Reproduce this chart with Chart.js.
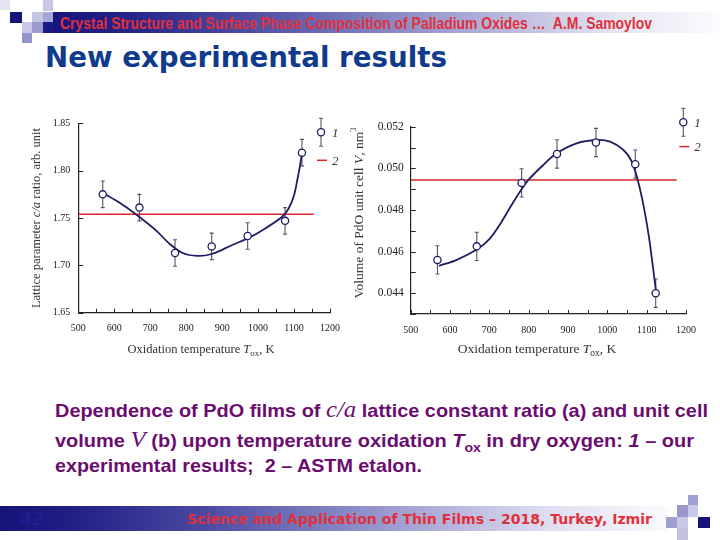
<!DOCTYPE html>
<html>
<head>
<meta charset="utf-8">
<script src="https://cdn.jsdelivr.net/npm/chart.js@4.4.1/dist/chart.umd.min.js"></script>
<style>
body { margin: 0; background: #fff; }
#slide { position: relative; width: 720px; height: 540px; overflow: hidden; background: #fff; font-family: "Liberation Sans", Arial, sans-serif; }
.sq { position: absolute; }
.fit { position: absolute; white-space: nowrap; transform-origin: 0 50%; }
canvas { position: absolute; }
.cap { color: #6b0d6e; font-weight: bold; font-size: 18.5px; height: 24px; line-height: 24px; font-family: "Liberation Sans Narrow", "Arial Narrow", "Liberation Sans", sans-serif; }
.ser { font-family: "Liberation Serif", "Times New Roman", serif; font-style: italic; font-weight: normal; font-size: 23px; }
.cap sub { font-size: 13px; vertical-align: -5px; line-height: 0; }
</style>
</head>
<body>
<div id="slide">
  <!-- header bar and squares -->
  <div class="sq" style="left:50px;top:12px;width:670px;height:21px;background:linear-gradient(to right,#14147c 0%,#24248a 12%,#5a5aac 35%,#a8a8d6 62%,#e6e6f3 85%,#fbfbfe 100%);"></div>
  <div class="sq" style="left:0;top:0;width:10px;height:10px;background:#e4e4f2;"></div>
  <div class="sq" style="left:43px;top:0;width:10px;height:11px;background:#c8c8e6;"></div>
  <div class="sq" style="left:10px;top:12px;width:12px;height:11px;background:#14147a;"></div>
  <div class="sq" style="left:32px;top:12px;width:11px;height:10px;background:#c4c4e4;"></div>
  <div class="sq" style="left:43px;top:12px;width:10px;height:10px;background:#a8a8d8;"></div>
  <div class="sq" style="left:22px;top:22px;width:10px;height:11px;background:#c8c8e8;"></div>
  <div class="sq" style="left:32px;top:22px;width:11px;height:11px;background:#9c9cd0;"></div>
  <div class="sq" style="left:43px;top:22px;width:10px;height:11px;background:#1a1a86;"></div>
  <div class="sq" style="left:22px;top:33px;width:10px;height:10px;background:#9494cc;"></div>
  <div class="fit" data-w="592" style="left:60px;top:12px;height:22px;line-height:22px;font-size:16.5px;font-weight:bold;color:#e0303a;font-family:'Liberation Sans Narrow','Arial Narrow','Liberation Sans',sans-serif;">Crystal Structure and Surface Phase Composition of Palladium Oxides …&nbsp; A.M. Samoylov</div>
  <div class="fit" data-w="402" style="left:45px;top:42px;height:32px;line-height:32px;font-size:28px;font-weight:bold;color:#103a8c;font-family:'DejaVu Sans',Verdana,sans-serif;">New experimental results</div>

  <canvas id="chartA" width="330" height="262" style="left:20px;top:105px;"></canvas>
  <canvas id="chartB" width="362" height="270" style="left:350px;top:100px;"></canvas>

  <div class="fit cap" data-w="653" style="left:55px;top:398px;">Dependence of PdO films of <span class="ser">c/a</span> lattice constant ratio (a) and unit cell</div>
  <div class="fit cap" data-w="639" style="left:55px;top:428px;">volume <span class="ser">V</span> (b) upon temperature oxidation <i>T</i><sub>ox</sub> in dry oxygen: <i>1</i> – our</div>
  <div class="fit cap" data-w="367" style="left:55px;top:454px;">experimental results;&nbsp; 2 – ASTM etalon.</div>

  <!-- footer bar and squares -->
  <div class="sq" style="left:0;top:506px;width:668px;height:25px;background:linear-gradient(to right,#14147a 0%,#1e1e84 10%,#4848a2 30%,#9a9ad0 58%,#dedef0 82%,#fafafd 100%);"></div>
  <div class="fit" data-w="24" style="left:20px;top:507px;height:24px;line-height:24px;font-size:19px;color:#20209a;font-family:'Liberation Serif',serif;">42</div>
  <div class="fit" data-w="465" style="left:187px;top:507px;height:24px;line-height:24px;font-size:14.5px;font-weight:bold;color:#e0303a;font-family:'DejaVu Sans',Tahoma,sans-serif;">Science and Application of Thin Films – 2018, Turkey, Izmir</div>
  <div class="sq" style="left:688px;top:495px;width:10px;height:10px;background:#a0a0d4;"></div>
  <div class="sq" style="left:677px;top:505px;width:11px;height:12px;background:#9898cc;"></div>
  <div class="sq" style="left:688px;top:505px;width:10px;height:12px;background:#c8c8e8;"></div>
  <div class="sq" style="left:666px;top:517px;width:11px;height:11px;background:#a0a0d0;"></div>
  <div class="sq" style="left:677px;top:517px;width:11px;height:11px;background:#c8c8e6;"></div>
  <div class="sq" style="left:698px;top:517px;width:12px;height:11px;background:#14147a;"></div>
  <div class="sq" style="left:677px;top:528px;width:11px;height:12px;background:#c0c0e0;"></div>
</div>

<script>
// (a) c/a ratio vs oxidation temperature
const tempsA = [568, 670, 769, 871, 971, 1075, 1122];
const ratioA = [1.775, 1.761, 1.713, 1.720, 1.731, 1.747, 1.819];
const ratioErrA = [0.014, 0.014, 0.014, 0.014, 0.014, 0.014, 0.014];
const fitTempsA = [570, 615, 660, 716, 753, 790, 831, 871, 928, 974, 1020, 1066, 1085, 1100, 1110, 1117, 1122];
const fitRatioA = [1.776, 1.766, 1.754, 1.737, 1.723, 1.713, 1.710, 1.712, 1.7215, 1.729, 1.739, 1.751, 1.760, 1.774, 1.792, 1.806, 1.819];
const astmTempsA = [500, 1155];
const astmRatioA = [1.754, 1.754];

// (b) unit cell volume vs oxidation temperature
const tempsB = [568, 668, 782, 872, 971, 1071, 1123];
const volB = [0.04560, 0.04625, 0.04930, 0.05069, 0.05124, 0.05020, 0.04400];
const volErrB = [0.00068, 0.00068, 0.00068, 0.00068, 0.00068, 0.00068, 0.00068];
const fitTempsB = [572, 617, 669, 700, 730, 760, 782, 800, 837, 871, 922, 973, 1007, 1041, 1060, 1075, 1090, 1105, 1115, 1123];
const fitVolB = [0.04531, 0.04560, 0.04611, 0.04660, 0.04740, 0.04835, 0.04900, 0.04946, 0.05016, 0.05072, 0.05120, 0.05136, 0.05128, 0.05088, 0.05040, 0.04960, 0.04840, 0.04680, 0.04540, 0.04420];
const astmTempsB = [500, 1176];
const astmVolB = [0.04944, 0.04944];

const tempRange = [500, 1200];
const ratioRange = [1.65, 1.85];
const volRange = [0.043, 0.052];

const NAVY = '#1e1e62';
const RED = '#d8262c';
const SERIF = '"Liberation Serif", "Times New Roman", serif';

function pairs(xs, ys) {
    return xs.map((x, i) => ({x: x, y: ys[i]}));
}

// draws a row of text pieces with their own fonts
function drawRuns(ctx, runs, x, y, align) {
    let total = 0;
    runs.forEach(r => {
        ctx.font = r.font;
        r.w = ctx.measureText(r.text).width;
        total += r.w;
    });
    let cx = align === 'center' ? x - total / 2 : x;
    runs.forEach(r => {
        ctx.font = r.font;
        ctx.fillText(r.text, cx, y + (r.dy || 0));
        cx += r.w;
    });
}

function decorPlugin(cfg) {
    return {
        id: 'decor',
        beforeDatasetsDraw(chart) {
            // error bars
            const ctx = chart.ctx;
            const ys = chart.scales.y;
            const meta = chart.getDatasetMeta(0);
            ctx.save();
            ctx.strokeStyle = '#555566';
            ctx.lineWidth = 1.1;
            meta.data.forEach((pt, i) => {
                const v = cfg.vals[i];
                const top = ys.getPixelForValue(v + cfg.errs[i]);
                const bot = ys.getPixelForValue(v - cfg.errs[i]);
                ctx.beginPath();
                ctx.moveTo(pt.x, top); ctx.lineTo(pt.x, bot);
                ctx.moveTo(pt.x - 2, top); ctx.lineTo(pt.x + 2, top);
                ctx.moveTo(pt.x - 2, bot); ctx.lineTo(pt.x + 2, bot);
                ctx.stroke();
            });
            ctx.restore();
        },
        afterDraw(chart) {
            const ctx = chart.ctx;
            const area = chart.chartArea;
            const xs = chart.scales.x, ys = chart.scales.y;
            ctx.save();
            // inward tick marks
            ctx.strokeStyle = '#222';
            ctx.lineWidth = 1;
            ctx.beginPath();
            xs.ticks.forEach(t => {
                const px = Math.round(xs.getPixelForValue(t.value)) + 0.5;
                ctx.moveTo(px, area.bottom); ctx.lineTo(px, area.bottom - 4);
            });
            ys.ticks.forEach(t => {
                const py = Math.round(ys.getPixelForValue(t.value)) + 0.5;
                ctx.moveTo(area.left, py); ctx.lineTo(area.left + 5, py);
            });
            ctx.stroke();

            // axis titles
            ctx.fillStyle = '#333';
            ctx.textBaseline = 'middle';
            ctx.textAlign = 'left';
            drawRuns(ctx, cfg.xTitle, cfg.xTitlePos[0], area.bottom + cfg.xTitlePos[1], 'center');
            ctx.save();
            ctx.translate(cfg.yTitlePos[0], cfg.yTitlePos[1]);
            ctx.rotate(-Math.PI / 2);
            drawRuns(ctx, cfg.yTitle, 0, 0, 'center');
            ctx.restore();

            // legend: 1 - points with error bar, 2 - ASTM line
            const lx = area.right + cfg.legend[0], ly = area.top + cfg.legend[1];
            ctx.strokeStyle = '#555566';
            ctx.lineWidth = 1.1;
            ctx.beginPath();
            ctx.moveTo(lx, ly - 14); ctx.lineTo(lx, ly + 14);
            ctx.moveTo(lx - 2, ly - 14); ctx.lineTo(lx + 2, ly - 14);
            ctx.moveTo(lx - 2, ly + 14); ctx.lineTo(lx + 2, ly + 14);
            ctx.stroke();
            ctx.beginPath();
            ctx.arc(lx, ly, 3.6, 0, Math.PI * 2);
            ctx.fillStyle = '#fff';
            ctx.fill();
            ctx.strokeStyle = NAVY;
            ctx.lineWidth = 1.3;
            ctx.stroke();
            ctx.strokeStyle = RED;
            ctx.lineWidth = 1.5;
            ctx.beginPath();
            ctx.moveTo(lx - 4, ly + cfg.legend[2]); ctx.lineTo(lx + 6, ly + cfg.legend[2]);
            ctx.stroke();
            ctx.fillStyle = '#333';
            ctx.font = 'italic 13px ' + SERIF;
            ctx.fillText('1', lx + 11, ly + 1);
            ctx.fillText('2', lx + 11, ly + cfg.legend[2] + 1);
            ctx.restore();
        }
    };
}

function makeChart(id, cfg) {
    const ct = document.getElementById(id).getContext('2d');
    return new Chart(ct, {
        type: 'scatter',
        data: {
            datasets: [{
                label: '1',
                data: pairs(cfg.temps, cfg.vals),
                pointRadius: 3.6,
                pointBackgroundColor: '#fff',
                pointBorderColor: NAVY,
                pointBorderWidth: 1.3,
                showLine: false,
                order: 0
            }, {
                label: 'fit',
                data: pairs(cfg.fitTemps, cfg.fitVals),
                showLine: true,
                borderColor: NAVY,
                borderWidth: 1.8,
                pointRadius: 0,
                tension: 0.35,
                order: 1
            }, {
                label: '2',
                data: pairs(cfg.astmTemps, cfg.astmVals),
                showLine: true,
                borderColor: RED,
                borderWidth: 1.5,
                pointRadius: 0,
                order: 2
            }]
        },
        options: {
            responsive: false,
            animation: false,
            events: [],
            layout: { padding: cfg.padding },
            plugins: { legend: { display: false }, tooltip: { enabled: false } },
            scales: {
                x: {
                    type: 'linear',
                    min: tempRange[0],
                    max: tempRange[1],
                    grid: { display: false, drawTicks: false },
                    border: { color: '#222', width: 1.2 },
                    ticks: {
                        stepSize: 50,
                        autoSkip: false,
                        maxRotation: 0,
                        padding: cfg.xPad,
                        color: '#222',
                        font: { family: SERIF, size: cfg.xFont },
                        callback: v => (v % 100 === 0 ? String(v) : '')
                    },
                    afterFit: s => { s.height = cfg.xHeight; }
                },
                y: {
                    min: cfg.yRange[0],
                    max: cfg.yRange[1],
                    grid: { display: false, drawTicks: false },
                    border: { color: '#222', width: 1.2 },
                    ticks: {
                        stepSize: cfg.yStep,
                        autoSkip: false,
                        padding: cfg.yPad,
                        color: '#222',
                        font: { family: SERIF, size: cfg.yFont },
                        callback: cfg.yLabel
                    },
                    afterFit: s => { s.width = cfg.yWidth; }
                }
            }
        },
        plugins: [decorPlugin(cfg)]
    });
}

const fA = '12.5px ' + SERIF, fAi = 'italic 12.5px ' + SERIF;
makeChart('chartA', {
    temps: tempsA, vals: ratioA, errs: ratioErrA,
    fitTemps: fitTempsA, fitVals: fitRatioA,
    astmTemps: astmTempsA, astmVals: astmRatioA,
    yRange: ratioRange, yStep: 0.05,
    yLabel: v => v.toFixed(2),
    padding: { left: 0, right: 17.7, top: 18.3, bottom: 0 },
    yWidth: 58.3, xHeight: 54.3,
    xPad: 10, yPad: 8, xFont: 10, yFont: 10,
    xTitle: [
        { text: 'Oxidation temperature ', font: fA },
        { text: 'T', font: fAi },
        { text: 'ox', font: '9px ' + SERIF, dy: 4 },
        { text: ', K', font: fA }
    ],
    xTitlePos: [181, 37],
    yTitle: [
        { text: 'Lattice parameter ', font: fA },
        { text: 'c/a', font: fAi },
        { text: ' ratio, arb. unit', font: fA }
    ],
    yTitlePos: [16.7, 113],
    legend: [-9, 9, 28]
});

const fB = '13.5px ' + SERIF, fBi = 'italic 13.5px ' + SERIF;
makeChart('chartB', {
    temps: tempsB, vals: volB, errs: volErrB,
    fitTemps: fitTempsB, fitVals: fitVolB,
    astmTemps: astmTempsB, astmVals: astmVolB,
    yRange: volRange, yStep: 0.001,
    yLabel: v => (Math.round(v * 1000) % 2 === 0 ? v.toFixed(3) : ''),
    padding: { left: 0, right: 26, top: 26.7, bottom: 0 },
    yWidth: 60.7, xHeight: 56,
    xPad: 10, yPad: 7, xFont: 10, yFont: 11.5,
    xTitle: [
        { text: 'Oxidation temperature ', font: fB },
        { text: 'T', font: fBi },
        { text: 'ox', font: '9.5px ' + SERIF, dy: 4 },
        { text: ', K', font: fB }
    ],
    xTitlePos: [187, 35.5],
    yTitle: [
        { text: 'Volume of PdO unit cell ', font: fB },
        { text: 'V', font: fBi },
        { text: ', nm', font: fB },
        { text: '3', font: '8.5px ' + SERIF, dy: -5 }
    ],
    yTitlePos: [9, 113],
    legend: [-2.7, -4.4, 24.3]
});

// squeeze the slide texts to the widths they have on the original slide
document.querySelectorAll('.fit').forEach(el => {
    const w = el.getBoundingClientRect().width;
    el.style.transform = 'scaleX(' + (el.dataset.w / w) + ')';
});
</script>
</body>
</html>
